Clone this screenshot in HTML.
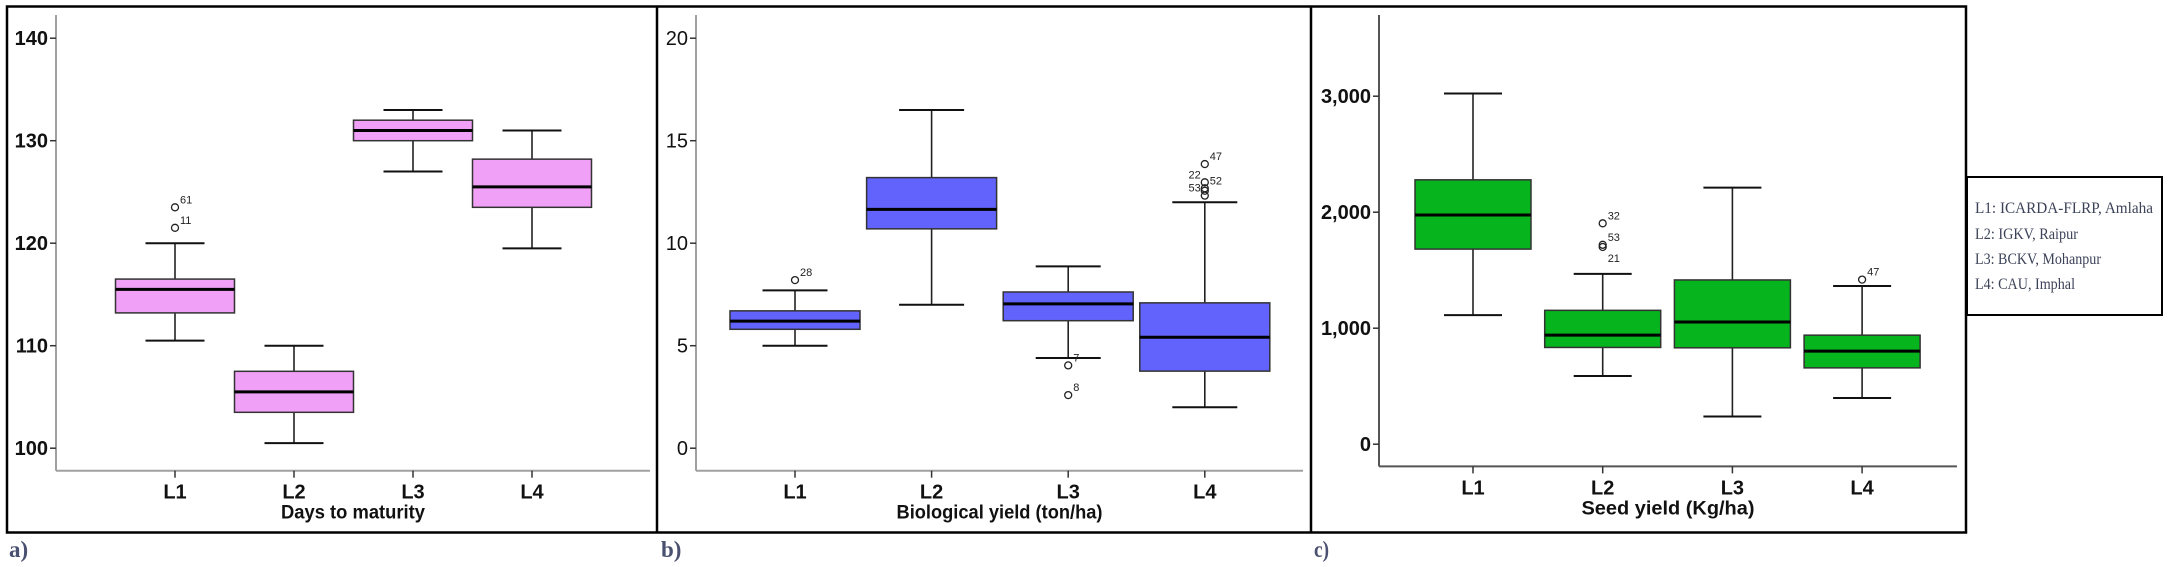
<!DOCTYPE html>
<html><head><meta charset="utf-8">
<style>
html,body{margin:0;padding:0;background:#fff;}
svg{display:block;}
</style></head>
<body>
<svg id="chart" width="2169" height="567" viewBox="0 0 2169 567" xmlns="http://www.w3.org/2000/svg">
  <rect x="0" y="0" width="2169" height="567" fill="#fff"/>
  <rect x="7" y="6.5" width="1959" height="526" fill="none" stroke="#000" stroke-width="2.5"/>
  <line x1="657" y1="6.5" x2="657" y2="532.5" stroke="#000" stroke-width="2.5"/>
  <line x1="1311" y1="6.5" x2="1311" y2="532.5" stroke="#000" stroke-width="2.5"/>
  <g id="panels"></g>
  <text x="9" y="557" font-family="Liberation Serif, serif" font-weight="bold" font-size="23" fill="#4a5070">a)</text>
  <text x="661" y="557" font-family="Liberation Serif, serif" font-weight="bold" font-size="23" fill="#4a5070">b)</text>
  <text x="1314" y="557" font-family="Liberation Serif, serif" font-weight="bold" font-size="23" fill="#4a5070" textLength="15" lengthAdjust="spacingAndGlyphs">c)</text>
  <g>
    <rect x="1967" y="177" width="195" height="138" fill="#fff" stroke="#000" stroke-width="2"/>
    <text x="1975" y="213" font-family="Liberation Serif, serif" font-size="16" fill="#3c4258" textLength="178" lengthAdjust="spacingAndGlyphs">L1: ICARDA-FLRP, Amlaha</text>
    <text x="1975" y="239" font-family="Liberation Serif, serif" font-size="16" fill="#3c4258" textLength="103" lengthAdjust="spacingAndGlyphs">L2: IGKV, Raipur</text>
    <text x="1975" y="264" font-family="Liberation Serif, serif" font-size="16" fill="#3c4258" textLength="126" lengthAdjust="spacingAndGlyphs">L3: BCKV, Mohanpur</text>
    <text x="1975" y="289" font-family="Liberation Serif, serif" font-size="16" fill="#3c4258" textLength="100" lengthAdjust="spacingAndGlyphs">L4: CAU, Imphal</text>
  </g>
</svg>
<script>
// ---- data ----
const categories = ["L1", "L2", "L3", "L4"];
// Days to maturity: [low whisker, Q1, median, Q3, high whisker]
const daysStats = [[110.5,113.2,115.5,116.5,120],[100.5,103.5,105.5,107.5,110],[127,130,131,132,133],[119.5,123.5,125.5,128.2,131]];
const daysOutliers = [[121.5,"11"],[123.5,"61"]];
const daysOutlierCat = [0,0];
const daysTicks = [100,110,120,130,140];
// Biological yield
const bioStats = [[5.0,5.8,6.2,6.7,7.7],[7.0,10.7,11.65,13.2,16.5],[4.4,6.22,7.04,7.62,8.87],[2.0,3.76,5.41,7.09,12.0]];
const bioOutliers = [[8.2,"28"],[4.04,"7"],[2.59,"8"],[13.86,"47"],[12.97,"22"],[12.68,"52"],[12.56,""],[12.32,"53"]];
const bioOutlierCat = [0,2,2,3,3,3,3,3];
const bioTicks = [0,5,10,15,20];
// Seed yield
const seedStats = [[1113,1682,1976,2279,3023],[588,834,940,1154,1468],[239,831,1053,1416,2212],[398,658,802,940,1364]];
const seedOutliers = [[1904,"32"],[1719,"53"],[1700,"21"],[1419,"47"]];
const seedOutlierCat = [1,1,1,3];
const seedTicks = [0,1000,2000,3000];
const seedTickLabels = ["0","1,000","2,000","3,000"];

const NS = "http://www.w3.org/2000/svg";
const root = document.getElementById("panels");
function mk(tag, attrs, parent){ const e=document.createElementNS(NS,tag); for(const k in attrs) e.setAttribute(k,attrs[k]); (parent||root).appendChild(e); return e; }

const panels = [
  {key:"days", stats:daysStats, outs:daysOutliers, outCat:daysOutlierCat, ticks:daysTicks, tickLabels:daysTicks.map(String),
   axisX:56, right:650, top:15, baseY:470.7, y0:448.2, v0:100, pxPer:10.25, cat0:175, catStep:119, boxW:119, capW:59,
   fill:"#f0a0f6", axisColor:"#a0a0a0", tickBold:true, tickSize:20, title:"Days to maturity", titleLen:144},
  {key:"bio", stats:bioStats, outs:bioOutliers, outCat:bioOutlierCat, ticks:bioTicks, tickLabels:bioTicks.map(String),
   axisX:696, right:1303, top:15, baseY:470.7, y0:448.2, v0:0, pxPer:20.5, cat0:795, catStep:136.6, boxW:130, capW:65,
   fill:"#6262fc", axisColor:"#a0a0a0", tickBold:false, tickSize:20, title:"Biological yield (ton/ha)", titleLen:206},
  {key:"seed", stats:seedStats, outs:seedOutliers, outCat:seedOutlierCat, ticks:seedTicks, tickLabels:seedTickLabels,
   axisX:1379, right:1957, top:15, baseY:466.4, y0:444.2, v0:0, pxPer:0.1160, cat0:1473, catStep:129.7, boxW:116, capW:58,
   fill:"#06b41e", axisColor:"#555", tickBold:true, tickSize:20, title:"Seed yield (Kg/ha)", titleLen:173}
];

panels.forEach(p=>{
  const y = v => p.y0 - (v - p.v0)*p.pxPer;
  const x = i => p.cat0 + i*p.catStep;
  const g = mk("g",{});
  
  
  const ya = mk("line",{x1:p.axisX,y1:p.top,x2:p.axisX,y2:p.baseY,stroke:p.axisColor,"stroke-width":2},g);
  
  
  const xa = mk("line",{x1:p.axisX,y1:p.baseY,x2:p.right,y2:p.baseY,stroke:p.axisColor,"stroke-width":2},g);
  
  
  p.ticks.forEach((t,i)=>{
    const ty=y(t);
    mk("line",{x1:p.axisX-6,y1:ty,x2:p.axisX,y2:ty,stroke:"#333","stroke-width":1.5},g);
    const tl = mk("text",{x:p.axisX-8,y:ty+7,"text-anchor":"end","font-family":"Liberation Sans, sans-serif","font-size":p.tickSize,"font-weight":p.tickBold?"bold":"normal",fill:"#111"},g);
    tl.textContent = p.tickLabels[i];
    
    
  });
  categories.forEach((c,i)=>{
    const cx=x(i);
    mk("line",{x1:cx,y1:p.baseY,x2:cx,y2:p.baseY+7,stroke:"#333","stroke-width":1.5},g);
    const cl = mk("text",{x:cx,y:p.baseY+28,"text-anchor":"middle","font-family":"Liberation Sans, sans-serif","font-size":20,"font-weight":"bold",fill:"#111"},g);
    cl.textContent=c;
    
    
    const s=p.stats[i];
    const box = mk("g",{},g);
    
    
    mk("line",{x1:cx,y1:y(s[4]),x2:cx,y2:y(s[3]),stroke:"#222","stroke-width":1.6},box);
    mk("line",{x1:cx,y1:y(s[1]),x2:cx,y2:y(s[0]),stroke:"#222","stroke-width":1.6},box);
    mk("line",{x1:cx-p.capW/2,y1:y(s[4]),x2:cx+p.capW/2,y2:y(s[4]),stroke:"#111","stroke-width":2},box);
    mk("line",{x1:cx-p.capW/2,y1:y(s[0]),x2:cx+p.capW/2,y2:y(s[0]),stroke:"#111","stroke-width":2},box);
    mk("rect",{x:cx-p.boxW/2,y:y(s[3]),width:p.boxW,height:y(s[1])-y(s[3]),fill:p.fill,stroke:"#333","stroke-width":1.5},box);
    mk("line",{x1:cx-p.boxW/2,y1:y(s[2]),x2:cx+p.boxW/2,y2:y(s[2]),stroke:"#000","stroke-width":3},box);
  });
  p.outs.forEach((o,j)=>{
    const cx=x(p.outCat[j]), oy=y(o[0]);
    const c = mk("circle",{cx:cx,cy:oy,r:3.5,fill:"none",stroke:"#222","stroke-width":1.3},g);
    
    
    if(o[1]){
      const left = (p.key==="bio" && (o[1]==="22"||o[1]==="53"));
      const below = (p.key==="seed" && o[1]==="21");
      const t = mk("text",{x:left?cx-4:cx+5,y:below?oy+15:oy-4,"text-anchor":left?"end":"start","font-family":"Liberation Sans, sans-serif","font-size":11,fill:"#222"},g);
      t.textContent=o[1];
      
      
    }
  });
  const tt = mk("text",{x:(p.axisX+p.right)/2,y:p.baseY+48,"text-anchor":"middle","font-family":"Liberation Sans, sans-serif","font-size":19,"font-weight":"bold",fill:"#111",textLength:p.titleLen,lengthAdjust:"spacingAndGlyphs"},g);
  tt.textContent=p.title;
  
  
});
</script>
</body></html>
